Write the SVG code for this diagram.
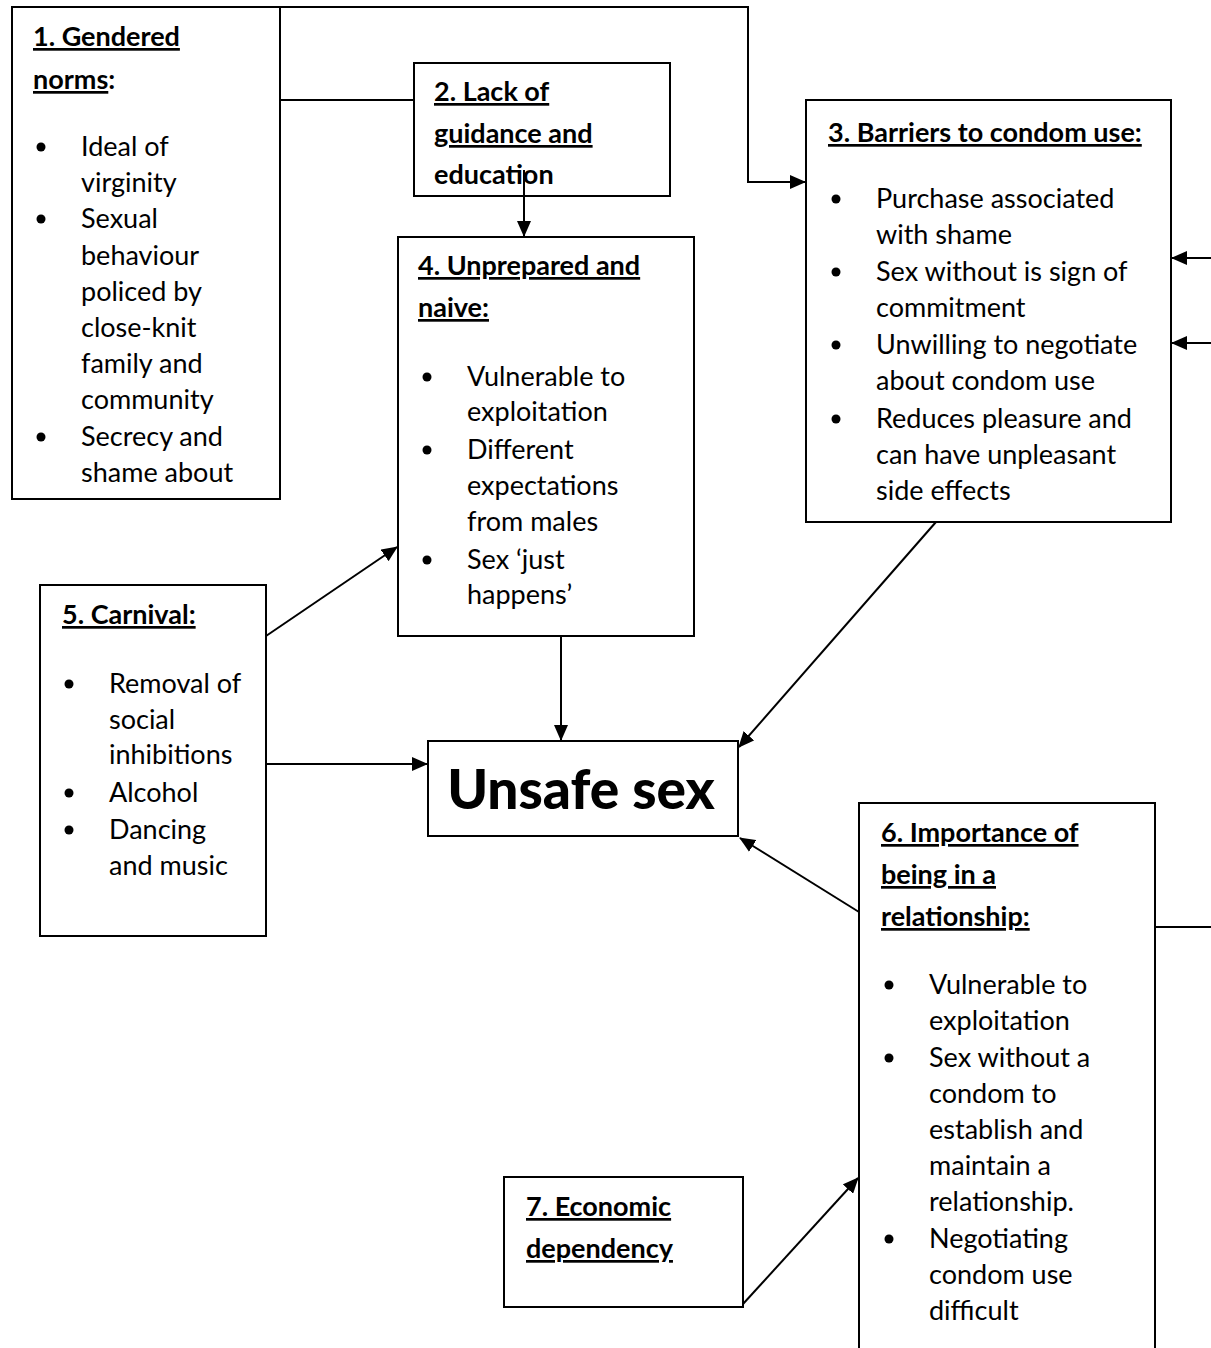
<svg xmlns="http://www.w3.org/2000/svg" width="1211" height="1348" viewBox="0 0 1211 1348">
  <style>
    .box { fill: #fff; stroke: #000; stroke-width: 2; }
    .t { font-family: Lato, "Liberation Sans", sans-serif; font-size: 27px; fill: #000; }
    .h { font-family: Lato, "Liberation Sans", sans-serif; font-size: 27px; font-weight: bold; fill: #000; }
    .u { text-decoration: underline; }
    .big { font-family: Lato, "Liberation Sans", sans-serif; font-size: 55px; font-weight: 900; fill: #000; }
    .conn { fill: none; stroke: #000; stroke-width: 2; }
    .dot { fill: #000; }
  </style>
  <defs>
    <marker id="arrow" viewBox="0 0 16 14" refX="15" refY="7" markerWidth="16" markerHeight="14" markerUnits="userSpaceOnUse" orient="auto">
      <path d="M0,0 L16,7 L0,14 Z" fill="#000"/>
    </marker>
  </defs>
  <rect width="1211" height="1348" fill="#fff"/>

  <!-- 1. Gendered norms -->
  <g id="node1">
    <rect class="box" x="12" y="7" width="268" height="492"/>
    <text class="h" x="33" y="46"><tspan class="u">1. Gendered</tspan></text>
    <text class="h" x="33" y="89"><tspan class="u">norms</tspan>:</text>
    <circle class="dot" cx="41" cy="147" r="4.5"/>
    <circle class="dot" cx="41" cy="219" r="4.5"/>
    <circle class="dot" cx="41" cy="437" r="4.5"/>
    <text class="t" x="81" y="156">Ideal of</text>
    <text class="t" x="81" y="192">virginity</text>
    <text class="t" x="81" y="228">Sexual</text>
    <text class="t" x="81" y="265">behaviour</text>
    <text class="t" x="81" y="301">policed by</text>
    <text class="t" x="81" y="337">close-knit</text>
    <text class="t" x="81" y="373">family and</text>
    <text class="t" x="81" y="409">community</text>
    <text class="t" x="81" y="446">Secrecy and</text>
    <text class="t" x="81" y="482">shame about</text>
  </g>

  <!-- 2. Lack of guidance and education -->
  <g id="node2">
    <rect class="box" x="414" y="63" width="256" height="133"/>
    <text class="h u" x="434" y="101">2. Lack of</text>
    <text class="h u" x="434" y="143">guidance and</text>
    <text class="h" x="434" y="184">education</text>
  </g>

  <!-- 3. Barriers to condom use -->
  <g id="node3">
    <rect class="box" x="806" y="100" width="365" height="422"/>
    <text class="h u" x="828" y="142">3. Barriers to condom use:</text>
    <circle class="dot" cx="836" cy="199" r="4.5"/>
    <circle class="dot" cx="836" cy="272" r="4.5"/>
    <circle class="dot" cx="836" cy="345" r="4.5"/>
    <circle class="dot" cx="836" cy="419" r="4.5"/>
    <text class="t" x="876" y="208">Purchase associated</text>
    <text class="t" x="876" y="244">with shame</text>
    <text class="t" x="876" y="281">Sex without is sign of</text>
    <text class="t" x="876" y="317">commitment</text>
    <text class="t" x="876" y="354">Unwilling to negotiate</text>
    <text class="t" x="876" y="390">about condom use</text>
    <text class="t" x="876" y="428">Reduces pleasure and</text>
    <text class="t" x="876" y="464">can have unpleasant</text>
    <text class="t" x="876" y="500">side effects</text>
  </g>

  <!-- 4. Unprepared and naive -->
  <g id="node4">
    <rect class="box" x="398" y="237" width="296" height="399"/>
    <text class="h u" x="418" y="275">4. Unprepared and</text>
    <text class="h u" x="418" y="317">naive:</text>
    <circle class="dot" cx="427" cy="377" r="4.5"/>
    <circle class="dot" cx="427" cy="450" r="4.5"/>
    <circle class="dot" cx="427" cy="560" r="4.5"/>
    <text class="t" x="467" y="386">Vulnerable to</text>
    <text class="t" x="467" y="421">exploitation</text>
    <text class="t" x="467" y="459">Different</text>
    <text class="t" x="467" y="495">expectations</text>
    <text class="t" x="467" y="531">from males</text>
    <text class="t" x="467" y="569">Sex ‘just</text>
    <text class="t" x="467" y="604">happens’</text>
  </g>

  <!-- 5. Carnival -->
  <g id="node5">
    <rect class="box" x="40" y="585" width="226" height="351"/>
    <text class="h u" x="62" y="624">5. Carnival:</text>
    <circle class="dot" cx="69" cy="684" r="4.5"/>
    <circle class="dot" cx="69" cy="793" r="4.5"/>
    <circle class="dot" cx="69" cy="830" r="4.5"/>
    <text class="t" x="109" y="693">Removal of</text>
    <text class="t" x="109" y="729">social</text>
    <text class="t" x="109" y="764">inhibitions</text>
    <text class="t" x="109" y="802">Alcohol</text>
    <text class="t" x="109" y="839">Dancing</text>
    <text class="t" x="109" y="875">and music</text>
  </g>

  <!-- Unsafe sex -->
  <g id="unsafe">
    <rect class="box" x="428" y="741" width="310" height="95"/>
    <text class="big" x="581" y="809" text-anchor="middle">Unsafe sex</text>
  </g>

  <!-- 6. Importance of being in a relationship (box runs past the bottom edge) -->
  <g id="node6">
    <path class="conn" d="M859,1352 L859,803 L1155,803 L1155,1352"/>
    <text class="h u" x="881" y="842">6. Importance of</text>
    <text class="h u" x="881" y="884">being in a</text>
    <text class="h u" x="881" y="926">relationship:</text>
    <circle class="dot" cx="889" cy="985" r="4.5"/>
    <circle class="dot" cx="889" cy="1058" r="4.5"/>
    <circle class="dot" cx="889" cy="1239" r="4.5"/>
    <text class="t" x="929" y="994">Vulnerable to</text>
    <text class="t" x="929" y="1030">exploitation</text>
    <text class="t" x="929" y="1067">Sex without a</text>
    <text class="t" x="929" y="1103">condom to</text>
    <text class="t" x="929" y="1139">establish and</text>
    <text class="t" x="929" y="1175">maintain a</text>
    <text class="t" x="929" y="1211">relationship.</text>
    <text class="t" x="929" y="1248">Negotiating</text>
    <text class="t" x="929" y="1284">condom use</text>
    <text class="t" x="929" y="1320">difficult</text>
  </g>

  <!-- 7. Economic dependency -->
  <g id="node7">
    <rect class="box" x="504" y="1177" width="239" height="130"/>
    <text class="h u" x="526" y="1216">7. Economic</text>
    <text class="h u" x="526" y="1258">dependency</text>
  </g>

  <!-- connectors, drawn on top of the boxes -->
  <g id="connectors">
    <polyline class="conn" points="280,7 748,7 748,182 805,182" marker-end="url(#arrow)"/>
    <line class="conn" x1="280" y1="100" x2="414" y2="100"/>
    <line class="conn" x1="524" y1="170" x2="524" y2="236" marker-end="url(#arrow)"/>
    <line class="conn" x1="1211" y1="258" x2="1172" y2="258" marker-end="url(#arrow)"/>
    <line class="conn" x1="1211" y1="343" x2="1172" y2="343" marker-end="url(#arrow)"/>
    <line class="conn" x1="266" y1="636" x2="397" y2="547" marker-end="url(#arrow)"/>
    <line class="conn" x1="266" y1="764" x2="427" y2="764" marker-end="url(#arrow)"/>
    <line class="conn" x1="561" y1="636" x2="561" y2="740" marker-end="url(#arrow)"/>
    <line class="conn" x1="936" y1="522" x2="739" y2="747" marker-end="url(#arrow)"/>
    <line class="conn" x1="859" y1="912" x2="740" y2="838" marker-end="url(#arrow)"/>
    <line class="conn" x1="1155" y1="927" x2="1211" y2="927"/>
    <line class="conn" x1="743" y1="1304" x2="858" y2="1178" marker-end="url(#arrow)"/>
  </g>
</svg>
